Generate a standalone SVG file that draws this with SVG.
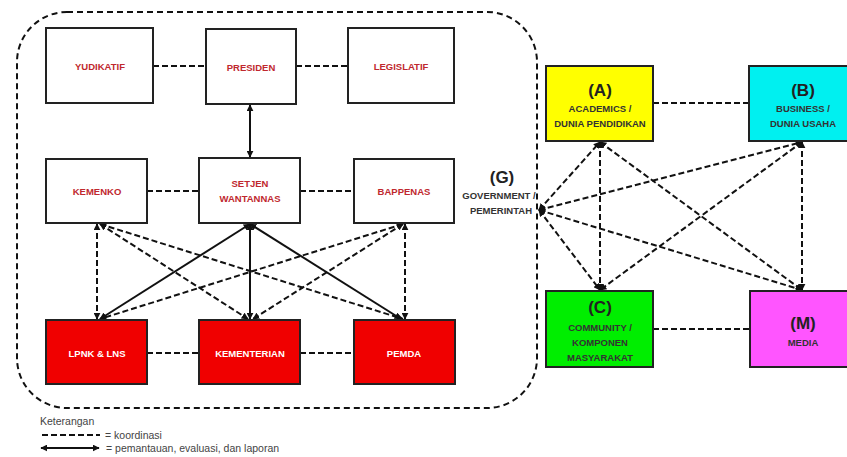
<svg xmlns="http://www.w3.org/2000/svg" width="847" height="457" viewBox="0 0 847 457">
<defs>
<style>
.box{stroke:#222;stroke-width:2}
.w{fill:#fff}
.r{fill:#f00000}
.lr{font-family:"Liberation Sans",Arial,sans-serif;font-weight:bold;font-size:9.5px;fill:#c0282e;text-anchor:middle}
.lw{font-family:"Liberation Sans",Arial,sans-serif;font-weight:bold;font-size:9.5px;fill:#fff;text-anchor:middle}
.big{font-family:"Liberation Sans",Arial,sans-serif;font-weight:bold;font-size:17px;fill:#222;text-anchor:middle}
.sm{font-family:"Liberation Sans",Arial,sans-serif;font-weight:bold;font-size:9.5px;fill:#333;text-anchor:middle}
.leg{font-family:"Liberation Sans",Arial,sans-serif;font-size:10.5px;fill:#444}
.d{stroke:#111;stroke-width:2;stroke-dasharray:6 3;fill:none}
.s{stroke:#111;stroke-width:2;fill:none}
</style>
<marker id="ah" viewBox="0 0 10 10" refX="9" refY="5" markerWidth="3.5" markerHeight="3.5" orient="auto-start-reverse" markerUnits="strokeWidth">
<path d="M0,0 L10,5 L0,10 z" fill="#111"/>
</marker>
</defs>
<rect x="0" y="0" width="847" height="457" fill="#fff"/>
<rect x="17" y="12" width="520" height="396" rx="50" ry="50" fill="none" stroke="#111" stroke-width="2" stroke-dasharray="6 4"/>

<g id="connectors">
<line class="d" x1="153" y1="66" x2="206" y2="66"/>
<line class="d" x1="296" y1="66" x2="348" y2="66"/>
<line class="s" x1="250" y1="105" x2="250" y2="157" marker-start="url(#ah)" marker-end="url(#ah)"/>
<line class="d" x1="147" y1="191" x2="199" y2="191"/>
<line class="d" x1="300" y1="191" x2="354" y2="191"/>
<line class="d" x1="147" y1="353" x2="199" y2="353"/>
<line class="d" x1="300" y1="353" x2="354" y2="353"/>
<line class="d" x1="97" y1="224" x2="97" y2="319" marker-start="url(#ah)" marker-end="url(#ah)"/>
<line class="d" x1="100" y1="224" x2="248" y2="319" marker-start="url(#ah)" marker-end="url(#ah)"/>
<line class="d" x1="100" y1="224" x2="403" y2="319" marker-start="url(#ah)" marker-end="url(#ah)"/>
<line class="d" x1="403" y1="224" x2="100" y2="319" marker-start="url(#ah)" marker-end="url(#ah)"/>
<line class="d" x1="403" y1="224" x2="253" y2="319" marker-start="url(#ah)" marker-end="url(#ah)"/>
<line class="d" x1="405" y1="224" x2="405" y2="319" marker-start="url(#ah)" marker-end="url(#ah)"/>
<line class="s" x1="250" y1="224" x2="100" y2="319" marker-start="url(#ah)" marker-end="url(#ah)"/>
<line class="s" x1="250" y1="224" x2="250" y2="319" marker-start="url(#ah)" marker-end="url(#ah)"/>
<line class="s" x1="250" y1="224" x2="401" y2="319" marker-start="url(#ah)" marker-end="url(#ah)"/>
<line class="d" x1="653" y1="103" x2="749" y2="103"/>
<line class="d" x1="653" y1="329" x2="750" y2="329"/>
<line class="d" x1="539" y1="210" x2="600" y2="142" marker-start="url(#ah)" marker-end="url(#ah)"/>
<line class="d" x1="539" y1="210" x2="802" y2="142" marker-start="url(#ah)" marker-end="url(#ah)"/>
<line class="d" x1="539" y1="210" x2="600" y2="290" marker-start="url(#ah)" marker-end="url(#ah)"/>
<line class="d" x1="539" y1="210" x2="802" y2="290" marker-start="url(#ah)" marker-end="url(#ah)"/>
<line class="d" x1="600" y1="142" x2="600" y2="290" marker-start="url(#ah)" marker-end="url(#ah)"/>
<line class="d" x1="600" y1="142" x2="802" y2="290" marker-start="url(#ah)" marker-end="url(#ah)"/>
<line class="d" x1="802" y1="142" x2="600" y2="290" marker-start="url(#ah)" marker-end="url(#ah)"/>
<line class="d" x1="802" y1="142" x2="802" y2="290" marker-start="url(#ah)" marker-end="url(#ah)"/>
</g>

<g id="yudikatif"><rect class="box w" x="46" y="28" width="107" height="75"/><text class="lr" x="100" y="70">YUDIKATIF</text></g>
<g id="presiden"><rect class="box w" x="206" y="29" width="90" height="75"/><text class="lr" x="251" y="71">PRESIDEN</text></g>
<g id="legislatif"><rect class="box w" x="348" y="28" width="106" height="75"/><text class="lr" x="401" y="70">LEGISLATIF</text></g>
<g id="kemenko"><rect class="box w" x="46" y="159" width="101" height="64"/><text class="lr" x="97" y="195">KEMENKO</text></g>
<g id="setjen"><rect class="box w" x="199" y="158" width="101" height="65"/><text class="lr" x="250" y="187">SETJEN</text><text class="lr" x="250" y="202">WANTANNAS</text></g>
<g id="bappenas"><rect class="box w" x="354" y="159" width="100" height="64"/><text class="lr" x="404" y="195">BAPPENAS</text></g>
<g id="lpnk"><rect class="box r" x="46" y="320" width="101" height="64"/><text class="lw" x="97" y="357">LPNK &amp; LNS</text></g>
<g id="kementerian"><rect class="box r" x="199" y="320" width="101" height="64"/><text class="lw" x="250" y="357">KEMENTERIAN</text></g>
<g id="pemda"><rect class="box r" x="354" y="320" width="101" height="64"/><text class="lw" x="404" y="357">PEMDA</text></g>

<g id="government"><text class="big" x="502" y="183">(G)</text><text class="sm" x="499" y="199">GOVERNMENT /</text><text class="sm" x="501" y="214">PEMERINTAH</text></g>
<g id="academics"><rect class="box" fill="#ffff00" x="546" y="66" width="107" height="75"/><text class="big" x="600" y="96">(A)</text><text class="sm" x="600" y="112">ACADEMICS /</text><text class="sm" x="600" y="127">DUNIA PENDIDIKAN</text></g>
<g id="business"><rect class="box" fill="#00f0f0" x="749" y="66" width="108" height="75"/><text class="big" x="803" y="96">(B)</text><text class="sm" x="803" y="112">BUSINESS /</text><text class="sm" x="803" y="127">DUNIA USAHA</text></g>
<g id="community"><rect class="box" fill="#00ee00" x="546" y="291" width="107" height="76"/><text class="big" x="600" y="313">(C)</text><text class="sm" x="600" y="331">COMMUNITY /</text><text class="sm" x="600" y="346">KOMPONEN</text><text class="sm" x="600" y="361">MASYARAKAT</text></g>
<g id="media"><rect class="box" fill="#ff55ff" x="750" y="291" width="108" height="76"/><text class="big" x="803" y="329">(M)</text><text class="sm" x="803" y="346">MEDIA</text></g>

<g id="legend">
<text class="leg" x="40" y="425">Keterangan</text>
<line class="d" x1="42" y1="435" x2="100" y2="435"/>
<text class="leg" x="105" y="439">= koordinasi</text>
<line class="s" x1="41" y1="448" x2="99" y2="448" marker-start="url(#ah)" marker-end="url(#ah)"/>
<text class="leg" x="106" y="452">= pemantauan, evaluasi, dan laporan</text>
</g>
</svg>
